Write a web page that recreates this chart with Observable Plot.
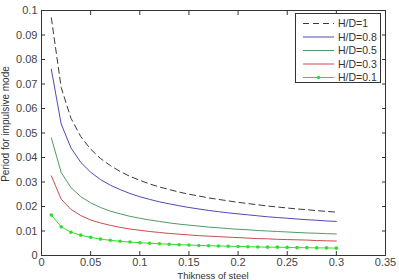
<!DOCTYPE html>
<html><head><meta charset="utf-8">
<script src="https://cdn.jsdelivr.net/npm/d3@7"></script>
<script src="https://cdn.jsdelivr.net/npm/@observablehq/plot@0.6"></script>
<style>
body{margin:0;background:#fff;font-family:"Liberation Sans",Arial,sans-serif;}
#wrap{position:relative;width:399px;height:280px;overflow:hidden;}
#legend{position:absolute;left:295px;top:13px;width:86px;height:70px;border:1px solid #333;background:#fff;box-sizing:border-box;}
</style></head><body>
<div id="wrap"><div id="chart"></div><div id="legend"></div></div>
<script>
const thickness = [0.01,0.02,0.03,0.04,0.05,0.06,0.07,0.08,0.09,0.10,0.11,0.12,0.13,0.14,0.15,0.16,0.17,0.18,0.19,0.20,0.21,0.22,0.23,0.24,0.25,0.26,0.27,0.28,0.29,0.30];
const hd1  = [0.097,0.0686,0.056,0.0485,0.0434,0.0396,0.0367,0.0343,0.0323,0.0307,0.0292,0.028,0.0269,0.0259,0.025,0.0243,0.0235,0.0229,0.0223,0.0217,0.0212,0.0207,0.0202,0.0198,0.0194,0.019,0.0187,0.0183,0.018,0.0177];
const hd08 = [0.076,0.0537,0.0439,0.038,0.034,0.031,0.0287,0.0269,0.0253,0.024,0.0229,0.0219,0.0211,0.0203,0.0196,0.019,0.0184,0.0179,0.0174,0.017,0.0166,0.0162,0.0158,0.0155,0.0152,0.0149,0.0146,0.0144,0.0141,0.0139];
const hd05 = [0.048,0.0339,0.0277,0.024,0.0215,0.0196,0.0181,0.017,0.016,0.0152,0.0145,0.0139,0.0133,0.0128,0.0124,0.012,0.0116,0.0113,0.011,0.0107,0.0105,0.0102,0.01,0.0098,0.0096,0.0094,0.0092,0.0091,0.0089,0.0088];
const hd03 = [0.0325,0.023,0.0188,0.0163,0.0145,0.0133,0.0123,0.0115,0.0108,0.0103,0.0098,0.0094,0.009,0.0087,0.0084,0.0081,0.0079,0.0077,0.0075,0.0073,0.0071,0.0069,0.0068,0.0066,0.0065,0.0064,0.0063,0.0061,0.006,0.0059];
const hd01 = [0.0165,0.0117,0.0095,0.0083,0.0074,0.0067,0.0062,0.0058,0.0055,0.0052,0.005,0.0048,0.0046,0.0044,0.0043,0.0041,0.004,0.0039,0.0038,0.0037,0.0036,0.0035,0.0034,0.0034,0.0033,0.0032,0.0032,0.0031,0.0031,0.003];
const seriesNames = ["H/D=1","H/D=0.8","H/D=0.5","H/D=0.3","H/D=0.1"];
const seriesValues = [hd1,hd08,hd05,hd03,hd01];
const seriesColors = ["#3a3a3a","#4c4cae","#4f9a62","#c94c4c","#2ee02e"];
const seriesDash = ["6,4",null,null,null,null];
const xTicks = [0,0.05,0.1,0.15,0.2,0.25,0.3,0.35];
const yTicks = [0,0.01,0.02,0.03,0.04,0.05,0.06,0.07,0.08,0.09,0.1];
const xLabel = "Thikness of steel";
const yLabel = "Period for impulsive mode";

const fmt = d => d === 0 ? "0" : String(d);
const lines = seriesValues.map((vals,i) => {
  const data = thickness.map((t,j)=>({x:t,y:vals[j]}));
  return Plot.line(data,{x:"x",y:"y",stroke:seriesColors[i],strokeWidth:1,strokeDasharray:seriesDash[i]});
});
const dotData = thickness.map((t,j)=>({x:t,y:hd01[j]}));
const chart = Plot.plot({
  width:399,height:280,
  marginLeft:41,marginRight:14,marginTop:10,marginBottom:25,
  style:{fontFamily:"'Liberation Sans',Arial,sans-serif",fontSize:"11px",color:"#333",background:"#fff"},
  x:{domain:[0,0.35],ticks:xTicks,tickFormat:fmt},
  y:{domain:[0,0.1],ticks:yTicks,tickFormat:fmt},
  marks:[
    Plot.frame({stroke:"#333",strokeWidth:1}),
    ...lines,
    Plot.dot(dotData,{x:"x",y:"y",r:1.8,fill:"#2ee02e",stroke:"none"}),
    Plot.axisX({anchor:"bottom",ticks:xTicks,tickFormat:fmt,tickSize:0,tickPadding:3,label:null,fill:"#444"}),
    Plot.axisY({anchor:"left",ticks:yTicks,tickFormat:fmt,tickSize:0,tickPadding:4,label:null,fill:"#444"}),
    Plot.axisX({anchor:"bottom",ticks:xTicks,tickSize:-4,text:null,label:null,stroke:"#333"}),
    Plot.axisX({anchor:"top",ticks:xTicks,tickSize:-4,text:null,label:null,stroke:"#333"}),
    Plot.axisY({anchor:"left",ticks:yTicks,tickSize:-4,text:null,label:null,stroke:"#333"}),
    Plot.axisY({anchor:"right",ticks:yTicks,tickSize:-4,text:null,label:null,stroke:"#333"})
  ]
});
document.getElementById("chart").appendChild(chart);
// axis titles
const svg = d3.select(chart);
svg.append("text").attr("x",213).attr("y",278.5).attr("text-anchor","middle")
  .attr("font-size","9.5px").attr("fill","#333").text(xLabel);
svg.append("text").attr("transform","translate(9,124) rotate(-90)").attr("text-anchor","middle")
  .attr("font-size","10px").attr("fill","#333").text(yLabel);
// legend
const lg = d3.select("#legend").append("svg").attr("width",84).attr("height",68)
  .style("font-family","'Liberation Sans',Arial,sans-serif").style("font-size","10.5px");
seriesNames.forEach((n,i)=>{
  const y = 9.5 + i*13.5;
  lg.append("line").attr("x1",7).attr("x2",38).attr("y1",y).attr("y2",y)
    .attr("stroke",seriesColors[i]).attr("stroke-width",1).attr("stroke-dasharray",seriesDash[i]);
  if(i===4) lg.append("circle").attr("cx",22.5).attr("cy",y).attr("r",1.8).attr("fill",seriesColors[i]);
  lg.append("text").attr("x",42).attr("y",y+3.8).attr("fill","#333").text(n);
});
</script>
</body></html>
